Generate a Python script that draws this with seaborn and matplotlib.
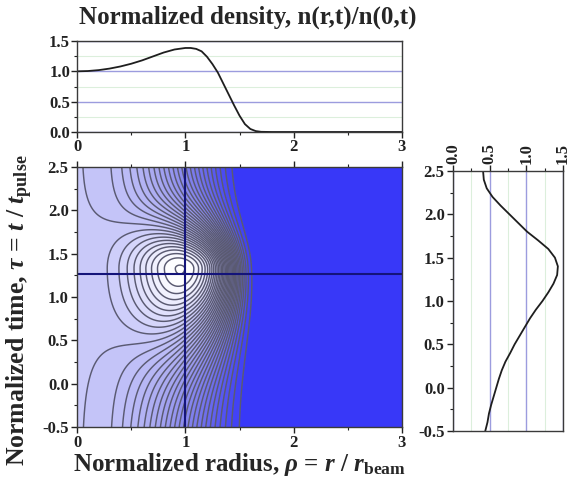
import numpy as np
import pandas as pd
import matplotlib
matplotlib.use("Agg")
import matplotlib.pyplot as plt
from matplotlib.colors import LinearSegmentedColormap, Normalize
from matplotlib.ticker import MultipleLocator, FormatStrFormatter
import seaborn as sns

# ---------------- data ----------------
# top panel: radial profile n(r,t)/n(0,t) at the horizontal cut
profile_r = [0.0, 0.1, 0.2, 0.3, 0.4, 0.5, 0.6, 0.7, 0.8, 0.9, 1.0, 1.05, 1.1,
             1.15, 1.2, 1.25, 1.3, 1.35, 1.4, 1.45, 1.5, 1.55, 1.6, 1.65, 1.7,
             1.8, 2.0, 2.5, 3.0]
profile_n = [1.00, 1.005, 1.02, 1.045, 1.08, 1.125, 1.18, 1.245, 1.31, 1.36,
             1.385, 1.385, 1.37, 1.33, 1.24, 1.12, 0.98, 0.80, 0.62, 0.44,
             0.27, 0.13, 0.05, 0.015, 0.003, 0.0, 0.0, 0.0, 0.0]

# right panel: temporal profile at the vertical cut rho = 1
cut_tau = [-0.5, -0.4, -0.3, -0.2, -0.1, 0.0, 0.1, 0.2, 0.3, 0.4, 0.5, 0.6,
           0.7, 0.8, 0.9, 1.0, 1.1, 1.2, 1.3, 1.4, 1.5, 1.6, 1.7, 1.8, 1.9,
           2.0, 2.1, 2.2, 2.3, 2.4, 2.5]
cut_n = [0.44, 0.47, 0.49, 0.52, 0.555, 0.59, 0.625, 0.665, 0.715, 0.78,
         0.84, 0.91, 0.98, 1.05, 1.13, 1.22, 1.30, 1.37, 1.42, 1.43, 1.39,
         1.30, 1.16, 1.01, 0.89, 0.77, 0.65, 0.54, 0.46, 0.42, 0.41]

cut_time = 1.265     # horizontal cross-hair (tau)
cut_radius = 1.0     # vertical cross-hair (rho)

# parameters of the density field n(r,t)/n(0,t) shown as contours
base_decay = 1.0
base_power = 2.55
ring_center = 0.98
ring_width = 0.47
ring_floor = 0.066
ring_peak = 0.42
pulse_center = 1.33
pulse_rise = 1.05
pulse_fall = 0.62
edge_start = 1.52
edge_end = 1.42
edge_power = 12
contour_levels = [round(0.04 * k, 2) for k in range(1, 36)]

# ---------------- style ----------------
sns.set_style("ticks")
SERIF = "Liberation Serif"
plt.rcParams.update({
    "font.family": [SERIF, "DejaVu Serif"],
    "font.weight": "bold",
    "mathtext.fontset": "custom",
    "mathtext.rm": SERIF + ":bold",
    "mathtext.it": SERIF + ":italic:bold",
    "mathtext.bf": SERIF + ":bold",
    "axes.edgecolor": "#3a3a3a",
    "axes.linewidth": 1.0,
    "xtick.color": "#222222",
    "ytick.color": "#222222",
})

W, H = 571, 487
fig = plt.figure(figsize=(W / 100, H / 100), dpi=100)

def box(x0, y0, x1, y1):
    return [x0 / W, 1 - y1 / H, (x1 - x0) / W, (y1 - y0) / H]

ax_top = fig.add_axes(box(77, 41, 402, 132))
ax_main = fig.add_axes(box(77, 167, 402, 427))
ax_right = fig.add_axes(box(453, 171, 563, 431))

TICK_FS = 12
tick_kw = dict(labelsize=TICK_FS, direction="out", length=4, width=1.0)
minor_kw = dict(direction="out", length=2, width=0.8)
GRID_MAJ = "#9c9cde"
GRID_MIN = "#dcefdc"

# ---------------- main contour panel ----------------
r = np.linspace(0, 3, 601)
tau = np.linspace(-0.5, 2.5, 601)
R, T = np.meshgrid(r, tau)
s = np.where(T < pulse_center,
             np.exp(-((T - pulse_center) / pulse_rise) ** 2),
             np.exp(-((T - pulse_center) / pulse_fall) ** 2))
a = base_decay * (1 - s)
C = ring_floor + (ring_peak - ring_floor) * s
ring = np.exp(-((R - ring_center) / ring_width) ** 2) - np.exp(-(ring_center / ring_width) ** 2)
edge_R = edge_start + (edge_end - edge_start) * (T + 0.5) / 3.0
E = np.exp(-(R / edge_R) ** edge_power)
F = (np.exp(-a * R ** base_power) + C * ring) * E

cmap = LinearSegmentedColormap.from_list(
    "dens", [(0.0, "#3838f8"), (0.3 / 1.4, "#7070ec"), (0.7 / 1.4, "#a6a6f0"),
             (1.0 / 1.4, "#c6c6f9"), (1.0, "#ffffff")])
norm = Normalize(0, 1.4)
fill_levels = [-0.05] + contour_levels + [1.6]
ax_main.contourf(R, T, F, levels=fill_levels, cmap=cmap, norm=norm)
ax_main.contour(R, T, F, levels=contour_levels, colors="#5a5a72", linewidths=1.05)
ax_main.axvline(cut_radius, color="#14147a", lw=1.5)
ax_main.axhline(cut_time, color="#14147a", lw=1.5)
ax_main.set_xlim(0, 3)
ax_main.set_ylim(-0.5, 2.5)
ax_main.xaxis.set_major_locator(MultipleLocator(1))
ax_main.xaxis.set_minor_locator(MultipleLocator(0.5))
ax_main.yaxis.set_major_locator(MultipleLocator(0.5))
ax_main.yaxis.set_minor_locator(MultipleLocator(0.25))
ax_main.yaxis.set_major_formatter(FormatStrFormatter("%.1f"))
ax_main.tick_params(which="major", top=True, pad=2, **tick_kw)
ax_main.tick_params(which="minor", top=True, **minor_kw)
ax_main.set_xlabel(r"Normalized radius, $\rho$ = $r$ / $r_{\mathbf{beam}}$",
                   fontsize=18, fontweight="bold", labelpad=0)
ax_main.set_ylabel(r"Normalized time, $\tau$ = $t$ / $t_{\mathbf{pulse}}$",
                   fontsize=18.5, fontweight="bold")
ax_main.yaxis.set_label_coords(-0.128, 0.45)

# ---------------- top panel ----------------
df_top = pd.DataFrame({"r": profile_r, "n": profile_n})
sns.lineplot(data=df_top, x="r", y="n", ax=ax_top, color="#1e1e1e", lw=1.3,
             estimator=None, sort=False)
ax_top.set_xlim(0, 3)
ax_top.set_ylim(0, 1.5)
ax_top.xaxis.set_major_locator(MultipleLocator(1))
ax_top.xaxis.set_minor_locator(MultipleLocator(0.5))
ax_top.yaxis.set_major_locator(MultipleLocator(0.5))
ax_top.yaxis.set_minor_locator(MultipleLocator(0.25))
ax_top.yaxis.set_major_formatter(FormatStrFormatter("%.1f"))
ax_top.grid(axis="y", which="major", color=GRID_MAJ, lw=1.0)
ax_top.grid(axis="y", which="minor", color=GRID_MIN, lw=0.8)
ax_top.set_axisbelow(True)
ax_top.tick_params(which="major", pad=1, **tick_kw)
ax_top.tick_params(which="minor", **minor_kw)
ax_top.set_xlabel("")
ax_top.set_ylabel("")
for sp in ax_top.spines.values():
    sp.set_visible(True)
fig.text(248 / W, 1 - 17 / H, "Normalized density, n(r,t)/n(0,t)",
         ha="center", va="center", fontsize=18, fontweight="bold")

# ---------------- right panel ----------------
df_right = pd.DataFrame({"tau": cut_tau, "n": cut_n})
sns.lineplot(data=df_right, x="n", y="tau", ax=ax_right, color="#1e1e1e",
             lw=1.3, estimator=None, sort=False, orient="y")
ax_right.set_xlim(0, 1.5)
ax_right.set_ylim(-0.5, 2.5)
ax_right.xaxis.tick_top()
ax_right.xaxis.set_major_locator(MultipleLocator(0.5))
ax_right.xaxis.set_minor_locator(MultipleLocator(0.25))
ax_right.yaxis.set_major_locator(MultipleLocator(0.5))
ax_right.yaxis.set_minor_locator(MultipleLocator(0.25))
ax_right.xaxis.set_major_formatter(FormatStrFormatter("%.1f"))
ax_right.yaxis.set_major_formatter(FormatStrFormatter("%.1f"))
ax_right.grid(axis="x", which="major", color=GRID_MAJ, lw=1.0)
ax_right.grid(axis="x", which="minor", color=GRID_MIN, lw=0.8)
ax_right.set_axisbelow(True)
ax_right.tick_params(which="major", pad=2, **tick_kw)
ax_right.tick_params(which="minor", **minor_kw)
ax_right.tick_params(axis="x", labelrotation=90, pad=1)
ax_right.set_xlabel("")
ax_right.set_ylabel("")
for sp in ax_right.spines.values():
    sp.set_visible(True)

fig.savefig("out.png", dpi=100)
